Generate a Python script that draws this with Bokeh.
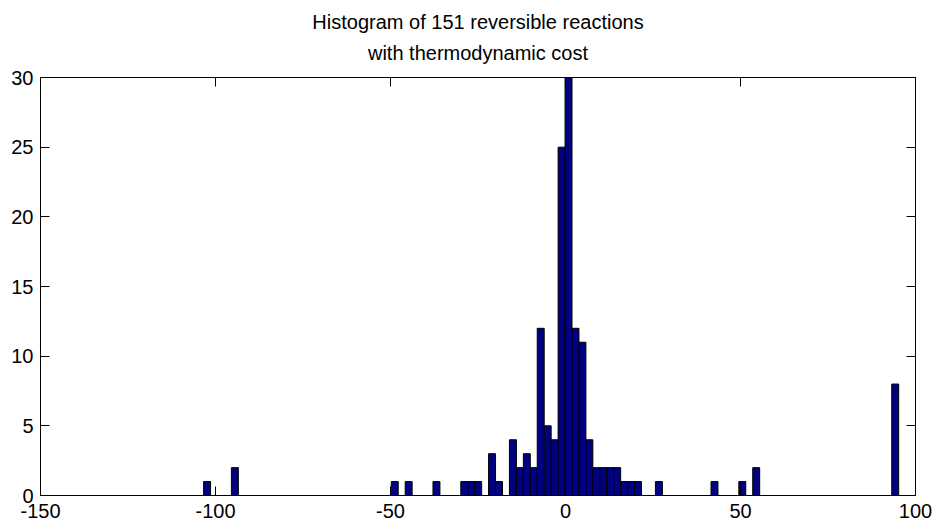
import numpy as np
from bokeh.plotting import figure
from bokeh.models import LinearAxis, Title, FixedTicker, ColumnDataSource
from bokeh.embed import file_html
from bokeh.resources import INLINE

# ---- data (100 bins) ----
bin_min = -103.4
bin_max = 95.2
counts = [
    1, 0, 0, 0, 2, 0, 0, 0, 0, 0,
    0, 0, 0, 0, 0, 0, 0, 0, 0, 0,
    0, 0, 0, 0, 0, 0, 0, 1, 0, 1,
    0, 0, 0, 1, 0, 0, 0, 1, 1, 1,
    0, 3, 1, 0, 4, 2, 3, 2, 12, 5,
    4, 25, 30, 12, 11, 4, 2, 2, 2, 2,
    1, 1, 1, 0, 0, 1, 0, 0, 0, 0,
    0, 0, 0, 1, 0, 0, 0, 1, 0, 2,
    0, 0, 0, 0, 0, 0, 0, 0, 0, 0,
    0, 0, 0, 0, 0, 0, 0, 0, 0, 8,
]
x_ticks = [-150, -100, -50, 0, 50, 100]
x_tick_labels = ["-150", "-100", "-50", "0", "50", "100"]
y_ticks = [0, 5, 10, 15, 20, 25, 30]
y_tick_labels = ["0", "5", "10", "15", "20", "25", "30"]
title_line1 = "Histogram of 151 reversible reactions"
title_line2 = "with thermodynamic cost"

edges = np.linspace(bin_min, bin_max, len(counts) + 1)
src = ColumnDataSource(dict(left=edges[:-1], right=edges[1:],
                            top=counts, bottom=[0] * len(counts)))

FONT = "Liberation Sans"
FS = "20px"

p = figure(width=938, height=529, x_range=(-150, 100), y_range=(0, 30),
           output_backend="svg", toolbar_location=None, title=None,
           min_border_left=40, min_border_right=23,
           min_border_top=77, min_border_bottom=34)
p.background_fill_color = "white"
p.border_fill_color = "white"
p.outline_line_color = "black"
p.xgrid.visible = False
p.ygrid.visible = False

p.quad(left="left", right="right", top="top", bottom="bottom", source=src,
       fill_color="#000080", line_color="black", line_width=1)

def style(ax, ticks, labels=None, standoff=8):
    ax.ticker = FixedTicker(ticks=ticks)
    ax.major_tick_in = 9
    ax.major_tick_out = 0
    ax.minor_tick_in = 0
    ax.minor_tick_out = 0
    ax.axis_line_color = "black"
    ax.major_tick_line_color = "black"
    if labels is not None:
        ax.major_label_overrides = {t: s for t, s in zip(ticks, labels)}
        ax.major_label_text_font = FONT
        ax.major_label_text_font_size = FS
        ax.major_label_text_color = "black"
        ax.major_label_standoff = standoff
    else:
        ax.major_label_overrides = {t: "" for t in ticks}
        ax.major_label_text_font_size = "1px"
        ax.major_label_standoff = 0

style(p.xaxis[0], x_ticks, x_tick_labels, standoff=8)
style(p.yaxis[0], y_ticks, y_tick_labels, standoff=7)

top_ax = LinearAxis()
style(top_ax, x_ticks)
p.add_layout(top_ax, "above")
right_ax = LinearAxis()
style(right_ax, y_ticks)
p.add_layout(right_ax, "right")

p.add_layout(Title(text=title_line2, align="center", text_font=FONT,
                   text_font_size=FS, text_font_style="normal",
                   text_color="black", standoff=28), "above")
p.add_layout(Title(text=title_line1, align="center", text_font=FONT,
                   text_font_size=FS, text_font_style="normal",
                   text_color="black", standoff=-15), "above")

open("out.html", "w").write(file_html(p, INLINE))
